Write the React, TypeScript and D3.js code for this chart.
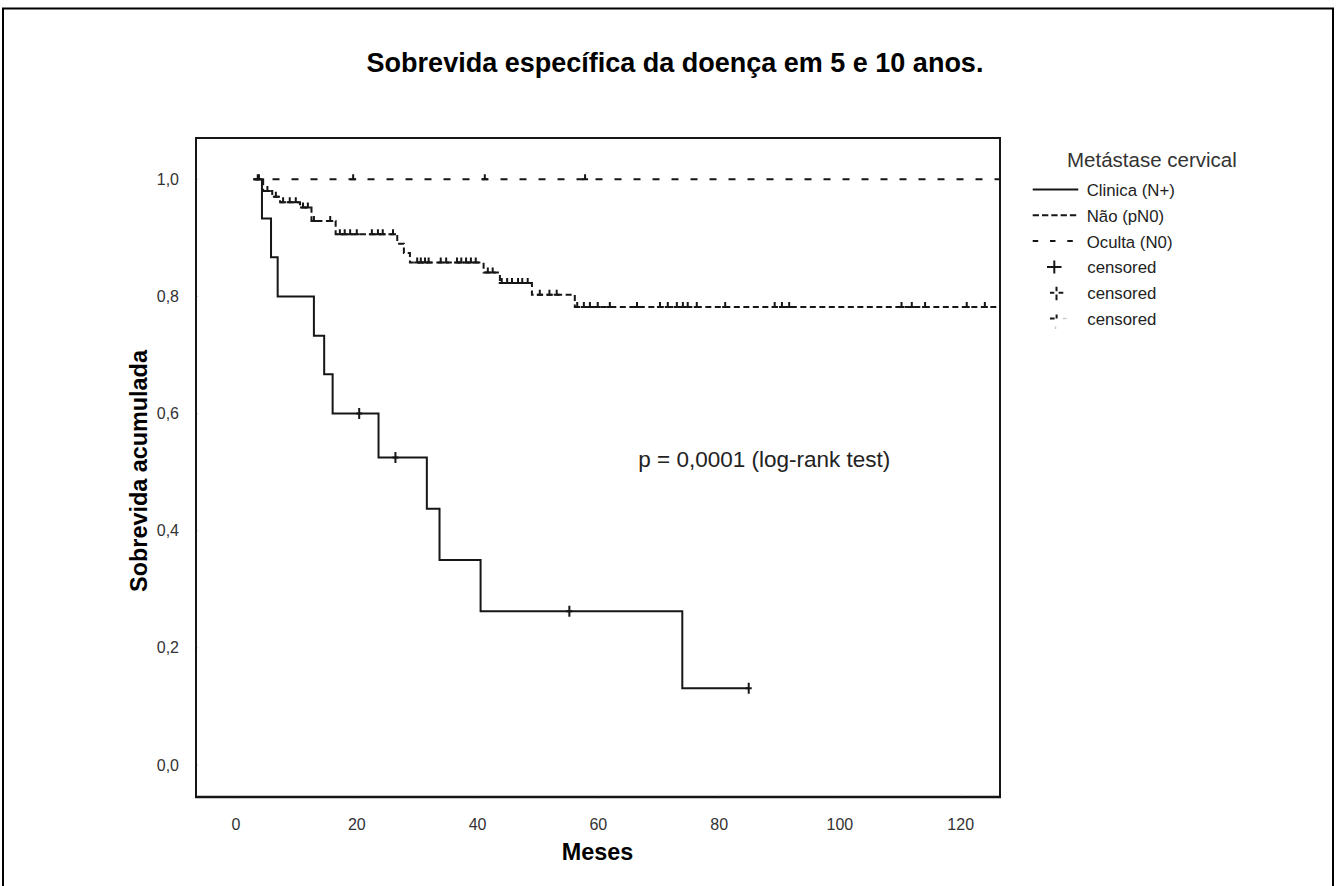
import React from "react";
import * as d3 from "d3";

// ---------- data ----------
const xTicks = [0, 20, 40, 60, 80, 100, 120];
const yTicks = [0, 0.2, 0.4, 0.6, 0.8, 1.0];
const yTickLabels = ["0,0", "0,2", "0,4", "0,6", "0,8", "1,0"];

const startTime = 2.9;

const clinicaEventTimes = [4.3, 5.8, 6.9, 12.9, 14.6, 16.0, 23.6, 31.6, 33.7, 40.5, 73.9];
const clinicaSurvival = [0.933, 0.867, 0.8, 0.733, 0.667, 0.6, 0.525, 0.4375, 0.35, 0.2625, 0.13125];
const clinicaCensored = [20.4, 26.4, 55.2, 84.9];
const clinicaEnd = 84.9;

const naoEventTimes = [4.5, 6.0, 7.3, 10.6, 12.5, 16.5, 26.7, 27.8, 28.8, 41.0, 43.7, 49.0, 56.1];
const naoSurvival = [0.98, 0.97, 0.961, 0.952, 0.929, 0.906, 0.89, 0.874, 0.858, 0.841, 0.823, 0.803, 0.782];
const naoCensored = [
  3.8, 5.2, 6.6, 7.8, 8.9, 9.9, 11.1, 11.9, 12.9, 15.6, 17.2, 18.0, 18.9, 20.0, 22.5, 23.5, 24.3, 26.0,
  30.0, 30.6, 31.3, 31.9, 33.9, 34.8, 36.6, 37.3, 38.1, 38.9, 39.7, 41.7, 42.5, 44.0, 44.9, 45.7, 46.7,
  47.4, 48.3, 50.3, 51.9, 53.1, 56.5, 57.6, 58.6, 59.9, 61.9, 66.4, 70.2, 71.5, 73.0, 74.0, 74.8, 76.3,
  81.0, 89.2, 90.4, 91.6, 110.2, 111.9, 114.1, 121.0, 124.0,
];
const naoEnd = 130;

const ocultaEventTimes: number[] = [];
const ocultaSurvival: number[] = [];
const ocultaCensored = [3.6, 19.4, 41.2, 57.8];
const ocultaEnd = 130;

const legendTitle = "Metástase cervical";
const legendLabels = ["Clinica (N+)", "Não (pN0)", "Oculta (N0)", "censored", "censored", "censored"];

// ---------- layout ----------
const W = 1336;
const H = 886;
const plotLeft = 196;
const plotRight = 1000;
const plotTop = 138;
const plotBottom = 797;

const FONT = "'Liberation Sans', Arial, Helvetica, sans-serif";
const INK = "#161616";

const x = d3.scaleLinear().domain([0, 120]).range([236, 960.7]);
const y = d3.scaleLinear().domain([0, 1]).range([765, 179.3]);

function survAt(times: number[], surv: number[], t: number) {
  let s = 1;
  for (let i = 0; i < times.length; i++) if (times[i] <= t) s = surv[i];
  return s;
}

function stepPoints(times: number[], surv: number[], end: number): [number, number][] {
  const pts: [number, number][] = [[startTime, 1]];
  times.forEach((t, i) => pts.push([t, surv[i]]));
  pts.push([end, surv.length ? surv[surv.length - 1] : 1]);
  return pts;
}

const stepLine = d3
  .line<[number, number]>()
  .x((d) => x(d[0]))
  .y((d) => y(d[1]))
  .curve(d3.curveStepAfter);

export default function App() {
  const clinicaPath = stepLine(stepPoints(clinicaEventTimes, clinicaSurvival, clinicaEnd)) || "";
  const naoPath = stepLine(stepPoints(naoEventTimes, naoSurvival, naoEnd)) || "";
  const ocultaPath = stepLine(stepPoints(ocultaEventTimes, ocultaSurvival, ocultaEnd)) || "";

  const tickCensor = (times: number[], ev: number[], sv: number[], key: string) =>
    times.map((t, i) => {
      const cx = x(t);
      const cy = y(survAt(ev, sv, t));
      return (
        <path
          key={key + i}
          d={`M${cx - 3},${cy} H${cx + 3} M${cx},${cy} V${cy - 5}`}
          stroke={INK}
          strokeWidth={2}
          fill="none"
        />
      );
    });

  const legX0 = 1032.7;
  const legX1 = 1078.3;
  const legTextX = 1086.7;
  const baseline0 = 196;
  const rowStep = 25.8;

  return (
    <svg
      width={W}
      height={H}
      viewBox={`0 0 ${W} ${H}`}
      style={{ position: "absolute", left: 0, top: 0, background: "#fff" }}
    >
      <rect x={0} y={0} width={W} height={H} fill="#fff" />
      {/* outer frame */}
      <rect x={3} y={8.5} width={1330} height={900} fill="none" stroke="#000" strokeWidth={2} />

      {/* title */}
      <text
        x={675}
        y={72}
        textAnchor="middle"
        fontFamily={FONT}
        fontWeight="bold"
        fontSize={27}
        fill="#000"
      >
        Sobrevida específica da doença em 5 e 10 anos.
      </text>

      <defs>
        <clipPath id="plotClip">
          <rect x={plotLeft} y={plotTop} width={plotRight - plotLeft} height={plotBottom - plotTop} />
        </clipPath>
      </defs>

      {/* curves */}
      <g clipPath="url(#plotClip)">
        <path d={ocultaPath} fill="none" stroke={INK} strokeWidth={2} strokeDasharray="7,12" />
        <path d={naoPath} fill="none" stroke={INK} strokeWidth={2} strokeDasharray="6,3.5" />
        <path d={clinicaPath} fill="none" stroke={INK} strokeWidth={2} />
        {tickCensor(ocultaCensored, ocultaEventTimes, ocultaSurvival, "oc")}
        {tickCensor(naoCensored, naoEventTimes, naoSurvival, "na")}
        {clinicaCensored.map((t, i) => {
          const cx = x(t);
          const cy = y(survAt(clinicaEventTimes, clinicaSurvival, t));
          return (
            <path
              key={"cl" + i}
              d={`M${cx},${cy - 5.5} V${cy + 5.5} M${cx - 3},${cy} H${cx + 3}`}
              stroke={INK}
              strokeWidth={2}
              fill="none"
            />
          );
        })}
      </g>

      {/* plot box */}
      <rect
        x={plotLeft}
        y={plotTop}
        width={plotRight - plotLeft}
        height={plotBottom - plotTop}
        fill="none"
        stroke={INK}
        strokeWidth={2}
      />
      <line x1={plotLeft - 1} x2={plotRight + 1} y1={plotBottom} y2={plotBottom} stroke={INK} strokeWidth={2.6} />

      {/* x ticks */}
      {xTicks.map((t) => (
        <g key={"xt" + t}>
          <line x1={x(t)} x2={x(t)} y1={plotBottom - 1.3} y2={plotBottom - 2.8} stroke="#ddd" strokeWidth={1} />
          <text
            x={x(t)}
            y={830}
            textAnchor="middle"
            fontFamily={FONT}
            fontSize={16}
            fill="#333"
          >
            {t}
          </text>
        </g>
      ))}

      {/* y ticks */}
      {yTicks.map((t, i) => (
        <g key={"yt" + t}>
          <line x1={plotLeft + 1} x2={plotLeft + 2.5} y1={y(t)} y2={y(t)} stroke="#ddd" strokeWidth={1} />
          <text
            x={179}
            y={y(t) + 5.5}
            textAnchor="end"
            fontFamily={FONT}
            fontSize={16}
            fill="#333"
          >
            {yTickLabels[i]}
          </text>
        </g>
      ))}

      {/* axis titles */}
      <text x={597.5} y={860} textAnchor="middle" fontFamily={FONT} fontWeight="bold" fontSize={23.4} fill="#000">
        Meses
      </text>
      <text
        transform={`translate(146.5,471) rotate(-90)`}
        textAnchor="middle"
        fontFamily={FONT}
        fontWeight="bold"
        fontSize={23.4}
        fill="#000"
      >
        Sobrevida acumulada
      </text>

      {/* p-value */}
      <text x={638.3} y={467.3} fontFamily={FONT} fontSize={22.5} fill="#222">
        p = 0,0001 (log-rank test)
      </text>

      {/* legend */}
      <text x={1067} y={166.7} fontFamily={FONT} fontSize={20.5} fill="#333">
        {legendTitle}
      </text>
      {legendLabels.map((lab, i) => {
        const bl = baseline0 + i * rowStep;
        const ly = bl - 6.5;
        let sym: React.ReactNode = null;
        if (i === 0) sym = <line x1={legX0} x2={legX1} y1={ly} y2={ly} stroke={INK} strokeWidth={2} />;
        if (i === 1)
          sym = <line x1={legX0} x2={legX1} y1={ly} y2={ly} stroke={INK} strokeWidth={2} strokeDasharray="6.3,3" />;
        if (i === 2)
          sym = <line x1={legX0} x2={legX1 - 4} y1={ly} y2={ly} stroke={INK} strokeWidth={2} strokeDasharray="5.5,11.8" />;
        if (i === 3)
          sym = (
            <path d={`M1047,${ly} H1061.5 M1054.3,${ly - 6.5} V${ly + 6.5}`} stroke={INK} strokeWidth={2} fill="none" />
          );
        if (i === 4)
          sym = (
            <path
              d={`M1050,${ly} H1054.3 M1058.6,${ly} H1063.3 M1056.5,${ly - 6} V${ly - 1.5} M1056.5,${ly + 1.8} V${ly + 7.5}`}
              stroke={INK}
              strokeWidth={2}
              fill="none"
            />
          );
        if (i === 5)
          sym = (
            <g>
              <path d={`M1050,${ly} H1054.6 M1056.6,${ly - 4} V${ly}`} stroke={INK} strokeWidth={2} fill="none" />
              <path d={`M1063,${ly} H1066.5 M1055.5,${ly + 8} V${ly + 10.5}`} stroke="#ccc" strokeWidth={1.5} fill="none" />
            </g>
          );
        return (
          <g key={"lg" + i}>
            {sym}
            <text x={i < 3 ? legTextX : 1087.3} y={bl} fontFamily={FONT} fontSize={16.8} fill="#222">
              {lab}
            </text>
          </g>
        );
      })}
    </svg>
  );
}
